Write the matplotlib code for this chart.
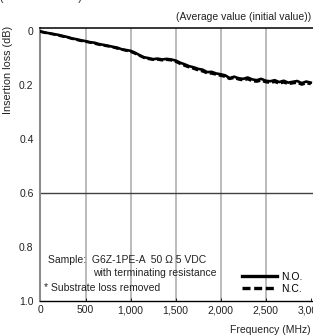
import matplotlib
matplotlib.use("Agg")
import matplotlib.pyplot as plt

plt.rcParams['font.family'] = ['Liberation Sans', 'DejaVu Sans']

# -------------------------------------------------------
# Data (insertion loss, dB)
# -------------------------------------------------------
freq_mhz = list(range(0, 3001, 50))

loss_no = [0.000, 0.004, 0.007, 0.010, 0.013, 0.017, 0.021, 0.026, 0.029, 0.033,
           0.036, 0.040, 0.042, 0.047, 0.050, 0.053, 0.057, 0.060, 0.066, 0.069,
           0.072, 0.079, 0.088, 0.096, 0.099, 0.103, 0.101, 0.104, 0.102, 0.104,
           0.108, 0.116, 0.122, 0.129, 0.133, 0.139, 0.142, 0.151, 0.150, 0.156,
           0.159, 0.163, 0.173, 0.168, 0.174, 0.176, 0.171, 0.178, 0.181, 0.176,
           0.183, 0.185, 0.181, 0.188, 0.183, 0.190, 0.187, 0.184, 0.192, 0.186,
           0.190]

loss_nc = [0.001, 0.005, 0.008, 0.011, 0.015, 0.019, 0.022, 0.027, 0.031, 0.035,
           0.038, 0.041, 0.045, 0.049, 0.052, 0.055, 0.058, 0.063, 0.067, 0.071,
           0.075, 0.082, 0.090, 0.098, 0.102, 0.105, 0.104, 0.107, 0.105, 0.107,
           0.112, 0.120, 0.127, 0.133, 0.138, 0.144, 0.148, 0.155, 0.156, 0.160,
           0.164, 0.168, 0.176, 0.172, 0.178, 0.181, 0.177, 0.184, 0.186, 0.182,
           0.188, 0.190, 0.187, 0.193, 0.189, 0.195, 0.192, 0.190, 0.197, 0.192,
           0.195]

x_ticks = [0, 500, 1000, 1500, 2000, 2500, 3000]
x_tick_labels = ["0", "500", "1,000", "1,500", "2,000", "2,500", "3,000"]
y_ticks = [0, 0.2, 0.4, 0.6, 0.8, 1.0]
y_tick_labels = ["0", "0.2", "0.4", "0.6", "0.8", "1.0"]

# -------------------------------------------------------
# Figure
# -------------------------------------------------------
W, H = 313, 335
fig = plt.figure(figsize=(W / 100, H / 100), dpi=100)
ax = fig.add_axes([40.5 / W, 1 - 301 / H, 1 - 40.5 / W, (301 - 28.3) / H])

ax.set_xlim(0, 3025)
ax.set_ylim(1.0, -0.0115)

# grid lines
for gx in x_ticks[1:-1]:
    ax.axvline(gx, color="#a8a8a8", lw=1.1, zorder=1)
ax.axhline(0.6, color="#404040", lw=1.0, zorder=1)

ax.plot(freq_mhz, loss_no, color="black", lw=1.9, label="N.O.", zorder=3)
ax.plot(freq_mhz, loss_nc, color="black", lw=1.9, ls=(0, (2.4, 1.1)),
        label="N.C.", zorder=3)

ax.set_xticks(x_ticks)
ax.set_xticklabels(x_tick_labels)
ax.set_yticks(y_ticks)
ax.set_yticklabels(y_tick_labels)
ax.tick_params(axis="x", direction="in", length=2, width=0.6, pad=3,
               labelsize=7.5, labelcolor="#222222")
ax.tick_params(axis="y", length=0, pad=5, labelsize=7.5, labelcolor="#222222")

ax.spines["right"].set_visible(False)
ax.spines["left"].set_color("#8c8c8c")
ax.spines["left"].set_linewidth(1.5)
ax.spines["top"].set_linewidth(1.1)
ax.spines["bottom"].set_linewidth(1.0)

# annotations
fs = 7.5
fig.text(47.5 / W, 1 - 260 / H, "Sample:  G6Z-1PE-A  50 \u03a9 5 VDC",
         fontsize=fs, va="center", color="#222222")
fig.text(93 / W, 1 - 272.5 / H, "with terminating resistance",
         fontsize=fs, va="center", color="#222222")
fig.text(44.5 / W, 1 - 288 / H, "* Substrate loss removed",
         fontsize=fs, va="center", color="#222222")

leg = ax.legend(loc="upper left", bbox_to_anchor=(0.7395, 0.108),
                frameon=False, fontsize=fs, borderpad=0, borderaxespad=0,
                handlelength=3.4, handletextpad=0.35, labelspacing=0.2)
for line in leg.get_lines():
    line.set_linewidth(2.4)

fig.text(311 / W, 1 - 17 / H, "(Average value (initial value))",
         fontsize=fs, ha="right", va="center", color="#222222")
fig.text(311 / W, 1 - 330 / H, "Frequency (MHz)",
         fontsize=fs, ha="right", va="center", color="#222222")
fig.text(8 / W, 1 - 70 / H, "Insertion loss (dB)", rotation=90,
         fontsize=7.8, ha="center", va="center", color="#222222")
# clipped header line at the very top
fig.text(0, 1 + 2 / H, "(" + " " * 26 + ")", fontsize=fs,
         ha="left", va="center", color="#222222")

fig.savefig("out.png", dpi=100)
